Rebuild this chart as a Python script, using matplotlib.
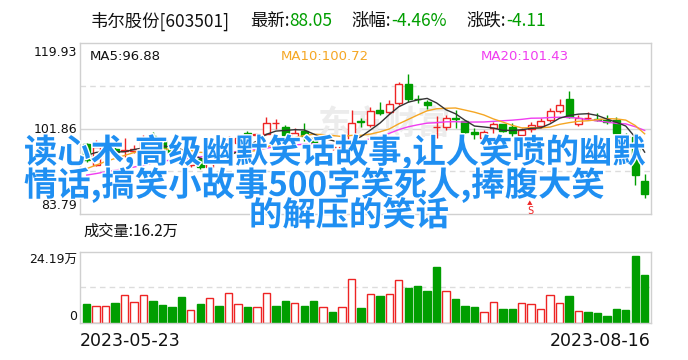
import matplotlib.pyplot as plt
import matplotlib.patheffects as pe
import numpy as np
import pandas as pd

plt.rcParams['font.family'] = ['Noto Sans CJK SC', 'DejaVu Sans']

RED = '#ee2424'
GREEN = '#009e00'
W, H = 688, 360

# daily candles, 2023-05-23 .. 2023-08-16
opens = [98.6, 94.2, 96.3, 97.6, 97.2, 97.2, 97.3, 100.2, 99.4, 97.6,
         97.3, 94.2, 95.4, 93.8, 96.6, 95.9, 98.8, 100.9, 100.4, 100.7,
         102.96, 102.2, 99.9, 101.4, 99.9, 98.0, 98.0, 97.4, 99.1, 103.4,
         102.6, 105.8, 105.4, 107.2, 111.2, 108.1, 107.4, 102.2, 102.2, 104.0,
         103.4, 101.2, 99.9, 102.0, 102.8, 102.2, 100.5, 101.7, 102.4, 103.7,
         105.6, 108.0, 102.9, 104.0, 103.9, 103.7, 103.6, 100.3, 100.1, 90.7]
highs = [98.9, 99.4, 98.0, 98.3, 99.9, 98.4, 100.5, 101.1, 99.7, 98.0,
         97.6, 96.3, 95.8, 96.3, 97.0, 100.3, 100.7, 101.3, 101.0, 104.2,
         103.8, 102.6, 101.9, 103.0, 100.3, 99.0, 98.6, 98.3, 105.7, 104.0,
         106.3, 107.4, 107.9, 111.7, 113.3, 108.9, 107.9, 104.5, 104.7, 105.8,
         103.6, 101.9, 101.6, 103.2, 102.9, 103.0, 101.9, 103.2, 104.0, 106.2,
         108.0, 109.7, 104.6, 105.4, 105.2, 104.7, 104.3, 101.0, 100.9, 92.3]
lows = [94.9, 93.9, 95.8, 96.4, 95.9, 96.6, 96.8, 98.6, 96.9, 96.1,
        94.2, 93.8, 93.3, 93.4, 95.5, 95.6, 98.4, 99.8, 98.9, 100.4,
        101.7, 100.2, 99.6, 99.2, 98.4, 97.6, 97.3, 96.9, 98.7, 102.2,
        102.2, 104.7, 105.0, 106.8, 107.4, 107.2, 105.9, 99.8, 101.5, 101.9,
        101.0, 99.7, 99.4, 100.9, 101.2, 100.2, 99.4, 101.2, 102.0, 103.3,
        105.2, 104.0, 102.3, 103.6, 103.4, 102.9, 100.7, 99.0, 89.9, 87.3]
closes = [95.2, 97.9, 97.4, 96.9, 97.4, 97.5, 99.7, 99.0, 97.3, 96.6,
          94.6, 95.6, 93.8, 95.9, 95.9, 99.6, 99.8, 100.1, 100.6, 103.1,
          102.96, 100.5, 100.9, 100.3, 98.8, 98.6, 98.0, 97.9, 103.0, 103.2,
          105.6, 105.2, 107.0, 111.2, 108.0, 108.0, 106.8, 102.2, 104.0, 103.8,
          101.2, 100.7, 101.2, 102.9, 101.4, 101.0, 101.5, 102.6, 103.5, 105.6,
          106.9, 104.3, 104.1, 104.0, 103.7, 103.2, 100.9, 100.1, 92.16, 88.05]
# closes before the window, estimated from where the MA lines start
prior_closes = [91.5, 90.2, 89.8, 90.6, 91.3, 90.9, 90.1, 90.4, 91.2, 91.0,
                90.3, 89.9, 90.5, 91.2, 91.1, 94.8, 96.5, 97.2, 97.3]
# volume in 万 shares
volumes = [6.47, 5.68, 5.68, 6.81, 9.43, 7.04, 9.43, 7.38, 6.13, 5.45,
           8.86, 4.32, 6.47, 8.40, 5.79, 10.11, 6.47, 5.45, 5.34, 10.11,
           5.79, 7.38, 6.70, 5.79, 7.38, 5.34, 3.75, 5.34, 14.88, 5.00,
           9.77, 9.20, 9.77, 14.54, 11.92, 12.61, 10.90, 19.08, 10.79, 8.06,
           5.79, 5.45, 3.63, 7.04, 4.77, 4.77, 6.70, 6.36, 4.66, 9.43,
           6.70, 9.20, 3.97, 3.75, 3.41, 2.38, 4.77, 4.43, 22.83, 16.2]
date_labels = ['2023-05-23', '2023-08-16']
price_ticks = [119.93, 101.86, 83.79]
vol_max = 24.19

o = np.array(opens)
h = np.array(highs)
l = np.array(lows)
c = np.array(closes)
v = np.array(volumes)
n = len(c)
x = np.arange(n)

all_close = pd.Series(prior_closes + closes)
ma5 = all_close.rolling(5).mean().values[-n:]
ma10 = all_close.rolling(10).mean().values[-n:]
ma20 = all_close.rolling(20).mean().values[-n:]

up = c >= o
prev_c = np.concatenate([[prior_closes[-1]], c[:-1]])
vol_up = np.where(c == o, c > prev_c, c > o)

fig = plt.figure(figsize=(W / 100, H / 100), dpi=100)


def ftext(px, py, s, **kw):
    fig.text(px / W, 1 - py / H, s, **kw)


ax = fig.add_axes([80 / W, 1 - 214.3 / H, 571 / W, 171.6 / H])
axv = fig.add_axes([80 / W, 1 - 322.7 / H, 571 / W, 71 / H])

for a in (ax, axv):
    a.set_xlim(-0.71, 59.67)
    a.set_xticks([])
    a.set_yticks([])
    for s in a.spines.values():
        s.set_color('#d0d0d0')
        s.set_linewidth(1)

ax.set_ylim(price_ticks[2], price_ticks[0])
axv.set_ylim(0, vol_max)

# grid
ax.axhline(price_ticks[1], color='#d6d6d6', lw=1, zorder=0)
for yv in [(price_ticks[0] + price_ticks[1]) / 2, (price_ticks[1] + price_ticks[2]) / 2]:
    ax.axhline(yv, color='#dcdcdc', lw=1, ls=(0, (4, 3)), zorder=0)
axv.axhline(vol_max / 2, color='#dcdcdc', lw=1, ls=(0, (4, 3)), zorder=0)

# watermark
ax.text(0.415, 0.52, '东方财富', transform=ax.transAxes, fontsize=24, fontweight='bold',
        color='#ececec', ha='left', va='center', zorder=0)

# candles
cols = np.where(up, RED, GREEN)
body_lo = np.minimum(o, c)
body_hi = np.maximum(o, c)
ax.vlines(x, body_hi, h, colors=cols, lw=1, zorder=2)
ax.vlines(x, l, body_lo, colors=cols, lw=1, zorder=2)
ax.bar(x, np.maximum(body_hi - body_lo, 0.03), bottom=body_lo, width=0.74,
       color=np.where(up, 'white', GREEN), edgecolor=cols, lw=1, zorder=3)

# moving averages
ax.plot(x, ma20, color='#f03cf0', lw=1, zorder=4)
ax.plot(x, ma10, color='#f5a623', lw=1, zorder=4)
ax.plot(x, ma5, color='#333333', lw=1, zorder=4)

# volume
vcols = np.where(vol_up, RED, GREEN)
axv.bar(x, v, width=0.78, color=np.where(vol_up, 'white', GREEN), edgecolor=vcols, lw=1)

# title
tk = dict(fontsize=12.5, va='center', color='#111111')
ftext(91, 21, '韦尔股份[603501]', **tk)
ftext(250, 21, '最新:', **tk)
ftext(289, 21, '88.05', **dict(tk, color=GREEN))
ftext(351, 21, '涨幅:', **tk)
ftext(391, 21, '-4.46%', **dict(tk, color=GREEN))
ftext(466, 21, '涨跌:', **tk)
ftext(506, 21, '-4.11', **dict(tk, color=GREEN))

# axis labels
lk = dict(fontsize=9, ha='right', va='center', color='#111111', family='DejaVu Sans')
ftext(77, 52.7, f'{price_ticks[0]:.2f}', **lk)
ftext(77, 129.3, f'{price_ticks[1]:.2f}', **lk)
ftext(77, 205.7, f'{price_ticks[2]:.2f}', **lk)
ftext(77, 260.5, f'{vol_max:.2f}万', **dict(lk, family=['DejaVu Sans', 'Noto Sans CJK SC']))
ftext(77, 316, '0', **lk)

mk = dict(fontsize=9.5, va='center', family='DejaVu Sans')
ftext(90, 56.7, 'MA5:96.88', color='#111111', **mk)
ftext(281, 56.7, 'MA10:100.72', color='#f5a623', **mk)
ftext(481, 56.7, 'MA20:101.43', color='#f03cf0', **mk)

ftext(83, 231.5, '成交量:16.2万', fontsize=11, va='center', color='#111111')

dk = dict(fontsize=12.5, va='center', color='#111111', family='DejaVu Sans')
ftext(80, 341.5, date_labels[0], ha='left', **dk)
ftext(651, 341.5, date_labels[1], ha='right', **dk)

# signal marker
ftext(530, 204, '▲', fontsize=4, ha='center', va='center', color=RED)
ftext(530, 210.5, 'S', fontsize=7.5, ha='center', va='center', color=RED, family='DejaVu Sans Mono')

# overlay headline
ok = dict(fontsize=24, fontweight='bold', color='#1f8ff2', va='center', ha='left',
          path_effects=[pe.withStroke(linewidth=2, foreground='white')])
ftext(24, 152, '读心术,高级幽默笑话故事,让人笑喷的幽默', **ok)
ftext(24, 185, '情话,搞笑小故事500字笑死人,捧腹大笑', **ok)
ftext(249, 216, '的解压的笑话', **ok)

fig.savefig('out.png', dpi=100)
